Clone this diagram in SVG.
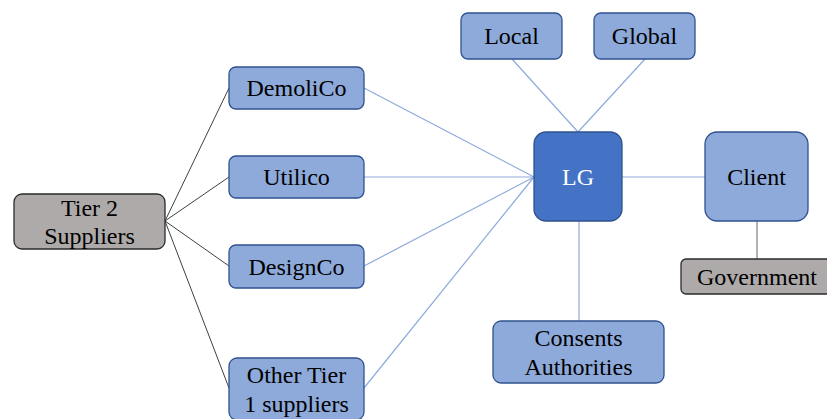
<svg xmlns="http://www.w3.org/2000/svg" width="827" height="419" viewBox="0 0 827 419">
  <style>
    .box { fill: #8eaadb; stroke: #2f528f; stroke-width: 1.3; }
    .hub { fill: #4472c4; stroke: #2f528f; stroke-width: 1.3; }
    .grey { fill: #aeaaaa; stroke: #2b2b2b; stroke-width: 1.3; }
    .lbl { font-family: 'Liberation Serif', serif; font-size: 24px; fill: #000; text-anchor: middle; }
    .white { fill: #fff; }
    .blue-link { stroke: #8eaadb; stroke-width: 1.2; fill: none; }
    .dark-link { stroke: #404040; stroke-width: 1; fill: none; }
    .grey-link { stroke: #7f7f7f; stroke-width: 1.2; fill: none; }
  </style>

  <g id="connectors">
    <line class="dark-link" x1="165" y1="221" x2="229" y2="88"/>
    <line class="dark-link" x1="165" y1="221" x2="229" y2="177"/>
    <line class="dark-link" x1="165" y1="221" x2="229" y2="266"/>
    <line class="dark-link" x1="165" y1="221" x2="229" y2="388"/>
    <line class="blue-link" x1="534" y1="177" x2="364" y2="88"/>
    <line class="blue-link" x1="534" y1="177" x2="364" y2="177"/>
    <line class="blue-link" x1="534" y1="177" x2="364" y2="266"/>
    <line class="blue-link" x1="534" y1="177" x2="364" y2="388"/>
    <line class="blue-link" x1="512" y1="59" x2="578" y2="132"/>
    <line class="blue-link" x1="645" y1="59" x2="578" y2="132"/>
    <line class="blue-link" x1="622" y1="177" x2="705" y2="177"/>
    <line class="blue-link" x1="579" y1="221" x2="579" y2="321"/>
    <line class="grey-link" x1="757" y1="221" x2="757" y2="259"/>
  </g>

  <g id="tier2">
    <rect class="grey" x="14" y="194" width="151" height="55" rx="8"/>
    <text class="lbl" x="89.5" y="216">Tier 2</text>
    <text class="lbl" x="89.5" y="244">Suppliers</text>
  </g>

  <g id="demolico">
    <rect class="box" x="229" y="67" width="135" height="42" rx="7"/>
    <text class="lbl" x="296.5" y="96">DemoliCo</text>
  </g>

  <g id="utilico">
    <rect class="box" x="229" y="156" width="135" height="42" rx="7"/>
    <text class="lbl" x="296.5" y="185">Utilico</text>
  </g>

  <g id="designco">
    <rect class="box" x="229" y="245" width="135" height="43" rx="7"/>
    <text class="lbl" x="296.5" y="275">DesignCo</text>
  </g>

  <g id="other-tier1">
    <rect class="box" x="229" y="358" width="135" height="62" rx="8"/>
    <text class="lbl" x="296.5" y="383">Other Tier</text>
    <text class="lbl" x="296.5" y="412">1 suppliers</text>
  </g>

  <g id="local">
    <rect class="box" x="461" y="13" width="101" height="46" rx="7"/>
    <text class="lbl" x="511.5" y="44">Local</text>
  </g>

  <g id="global">
    <rect class="box" x="594" y="13" width="101" height="46" rx="7"/>
    <text class="lbl" x="644.5" y="44">Global</text>
  </g>

  <g id="lg">
    <rect class="hub" x="534" y="132" width="88" height="89" rx="12"/>
    <text class="lbl white" x="578" y="185">LG</text>
  </g>

  <g id="client">
    <rect class="box" x="705" y="132" width="103" height="89" rx="12"/>
    <text class="lbl" x="756.5" y="185">Client</text>
  </g>

  <g id="government">
    <rect class="grey" x="681" y="259" width="152" height="35" rx="5"/>
    <text class="lbl" x="757" y="285">Government</text>
  </g>

  <g id="consents">
    <rect class="box" x="493" y="321" width="171" height="62" rx="8"/>
    <text class="lbl" x="578.5" y="346">Consents</text>
    <text class="lbl" x="578.5" y="375">Authorities</text>
  </g>
</svg>
